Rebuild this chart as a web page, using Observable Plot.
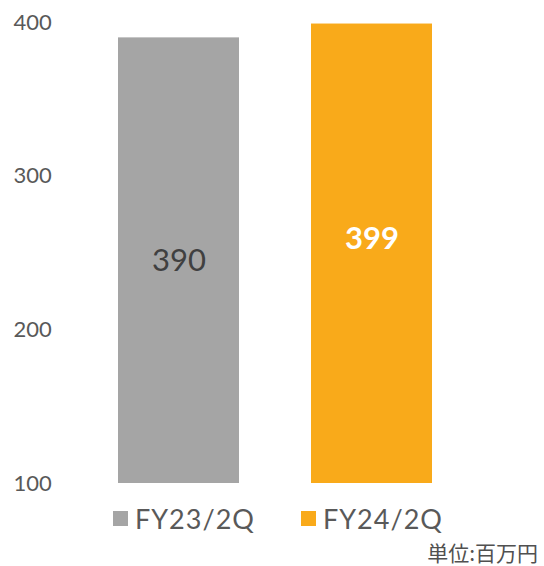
<!DOCTYPE html>
<html>
<head>
<meta charset="utf-8">
<script src="https://cdn.jsdelivr.net/npm/d3@7"></script>
<script src="https://cdn.jsdelivr.net/npm/@observablehq/plot@0.6"></script>
<style>
  html, body { margin: 0; padding: 0; background: #fff; }
  #wrap { position: relative; width: 544px; height: 566px; font-family: Lato, "Open Sans", sans-serif; overflow: hidden; }
  #wrap svg { overflow: visible; display: block; }
  .legend { position: absolute; top: 500px; left: 0; width: 544px; height: 36px; }
  .item { position: absolute; top: 0; display: flex; align-items: center; height: 36px; }
  .sw { width: 15px; height: 15px; margin-right: 7px; }
  .lab { font-size: 27px; color: #595959; letter-spacing: 1px; }
  .unit { position: absolute; right: 6px; top: 541px; line-height: 22px; font-family: "Noto Sans CJK JP", sans-serif; font-weight: 400; font-size: 21px; color: #505050; }
</style>
</head>
<body>
<div id="wrap"></div>
<script>
const categories = ["FY23/2Q", "FY24/2Q"];
const values = [390, 399];
const colors = ["#A5A5A5", "#F9AA1A"];
const labelColors = ["#404040", "#FFFFFF"];
const labelWeights = ["normal", "bold"];
const yTicks = [100, 200, 300, 400];
const unitText = "単位:百万円";

const data = categories.map((c, i) => ({cat: c, value: values[i], color: colors[i], lc: labelColors[i], lw: labelWeights[i]}));

const chart = Plot.plot({
  width: 544,
  height: 495,
  marginTop: 22,
  marginBottom: 12,
  marginLeft: 46,
  marginRight: 40,
  style: {fontFamily: "Lato, 'Open Sans', sans-serif", background: "#fff", overflow: "visible"},
  x: {domain: categories, paddingInner: 0.373, paddingOuter: 0.373, axis: null},
  y: {domain: [100, 400], axis: null},
  marks: [
    Plot.axisY({ticks: yTicks, tickSize: 0, tickPadding: 0, textAnchor: "start", dx: -33, fontSize: 22, fill: "#595959", label: null}),
    Plot.barY(data, {x: "cat", y1: 100, y2: "value", fill: "color"}),
    Plot.text(data.filter(d => d.lw === "normal"), {x: "cat", y: d => (d.value + 100) / 2, text: d => String(d.value), fill: "lc", fontSize: 31}),
    Plot.text(data.filter(d => d.lw === "bold"), {x: "cat", y: d => (d.value + 100) / 2, text: d => String(d.value), fill: "lc", fontSize: 31, fontWeight: "bold", dy: -15})
  ]
});
const wrap = document.getElementById("wrap");
wrap.appendChild(chart);

const legend = document.createElement("div");
legend.className = "legend";
const lefts = [113, 301];
categories.forEach((c, i) => {
  const it = document.createElement("div");
  it.className = "item";
  it.style.left = lefts[i] + "px";
  const sw = document.createElement("div");
  sw.className = "sw";
  sw.style.background = colors[i];
  const lab = document.createElement("span");
  lab.className = "lab";
  lab.textContent = c;
  it.appendChild(sw);
  it.appendChild(lab);
  legend.appendChild(it);
});
wrap.appendChild(legend);

const unit = document.createElement("div");
unit.className = "unit";
unit.textContent = unitText;
wrap.appendChild(unit);
</script>
</body>
</html>
